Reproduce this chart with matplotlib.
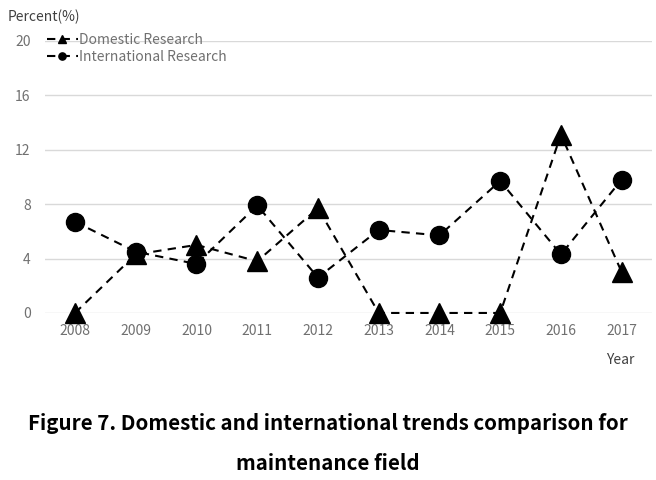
import numpy as np
import matplotlib.pyplot as plt

years = ['2008', '2009', '2010', '2011', '2012', '2013', '2014', '2015', '2016', '2017']
domestic = [0, 4.3, 5.0, 3.8, 7.7, 0, 0, 0, 13.1, 3.0]
international = [6.7, 4.5, 3.6, 7.9, 2.6, 6.1, 5.7, 9.7, 4.3, 9.8]

plt.rcParams['font.family'] = ['Noto Sans CJK KR', 'DejaVu Sans']

fig = plt.figure(figsize=(6.56, 4.8), dpi=100)
ax = fig.add_axes([0.068, 0.348, 0.926, 0.567])

x = np.arange(len(years))
ax.plot(x, domestic, color='black', linestyle='--', dashes=(4, 3), linewidth=1.5,
        marker='^', markersize=15, label='Domestic Research', clip_on=False, zorder=3)
ax.plot(x, international, color='black', linestyle='--', dashes=(4, 3), linewidth=1.5,
        marker='o', markersize=13, label='International Research', clip_on=False, zorder=3)

ax.set_xlim(-0.5, len(years) - 0.5)
ax.set_ylim(0, 20)
ax.set_yticks([0, 4, 8, 12, 16, 20])
ax.set_xticks(x)
ax.set_xticklabels(years)
ax.grid(axis='y', color='#d9d9d9', linewidth=1)
ax.set_axisbelow(True)
for s in ax.spines.values():
    s.set_visible(False)
ax.tick_params(length=0, colors='#707070', labelsize=10)
ax.tick_params(axis='x', pad=8)
ax.tick_params(axis='y', pad=10)

leg = ax.legend(loc='upper left', bbox_to_anchor=(-0.005, 1.05), frameon=False,
                fontsize=10, markerscale=0.4, handlelength=2.2, handletextpad=0.1,
                labelspacing=0.2, borderaxespad=0)
for t in leg.get_texts():
    t.set_color('#707070')

fig.text(0.012, 0.965, 'Percent(%)', fontsize=10, color='#404040', va='center')
fig.text(0.945, 0.25, 'Year', fontsize=10, color='#404040', va='center', ha='center')

fig.text(0.5, 0.118, 'Figure 7. Domestic and international trends comparison for',
         fontsize=14.8, ha='center', va='center', weight='bold')
fig.text(0.5, 0.035, 'maintenance field',
         fontsize=14.8, ha='center', va='center', weight='bold')

fig.savefig('out.png', dpi=100)
